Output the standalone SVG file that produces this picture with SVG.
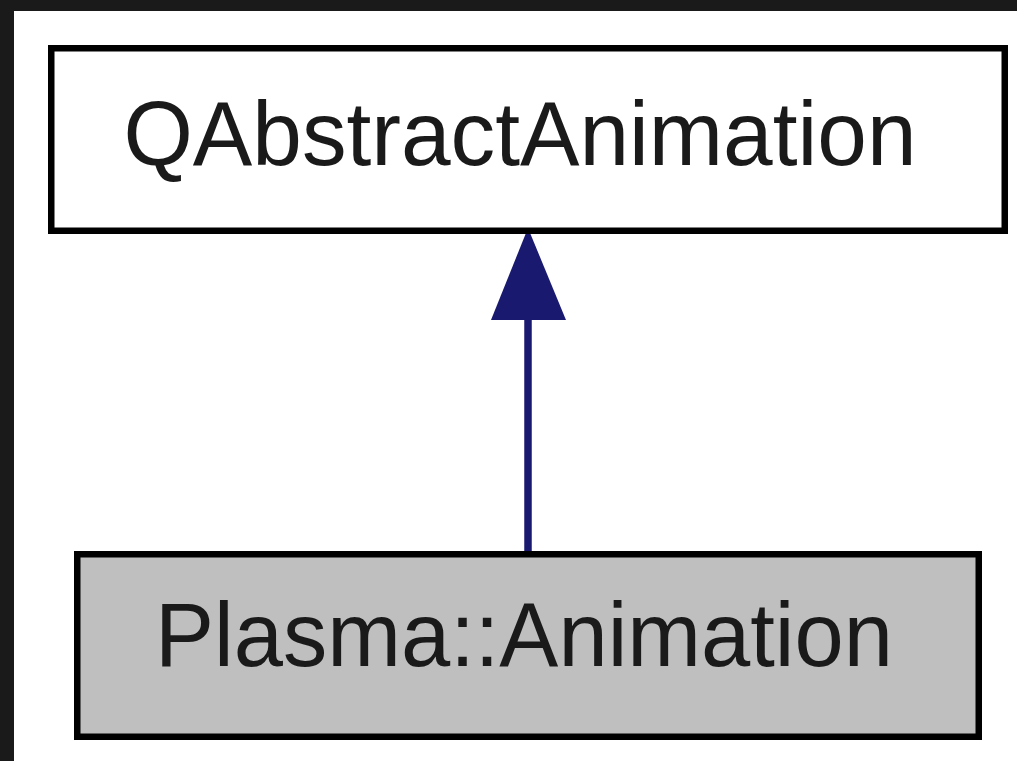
<svg xmlns="http://www.w3.org/2000/svg" width="1017" height="761" viewBox="0 0 1017 761">
<style>
.box{stroke:#000;stroke-width:6.5}
.lbl{font-family:"Liberation Sans",Arial,sans-serif;font-size:90px;fill:#1a1a1a;text-anchor:middle}
.edge{stroke:#191970;stroke-width:7.5;fill:none}
</style>
<rect x="0" y="0" width="1017" height="761" fill="#1a1a1a"/>
<rect x="14" y="11" width="1003" height="750" fill="#ffffff"/>
<g id="connectors">
<line class="edge" x1="528" y1="318" x2="528" y2="552"/>
<polygon points="528,228 491,320 566,320" fill="#191970"/>
</g>
<g id="node-QAbstractAnimation">
<rect class="box" x="51.25" y="48.25" width="953.5" height="182.5" fill="#ffffff"/>
<text class="lbl" x="520" y="165" textLength="793" lengthAdjust="spacingAndGlyphs">QAbstractAnimation</text>
</g>
<g id="node-PlasmaAnimation">
<rect class="box" x="77.25" y="554.25" width="901.5" height="182.5" fill="#bfbfbf"/>
<text class="lbl" x="524" y="666" textLength="738" lengthAdjust="spacingAndGlyphs">Plasma::Animation</text>
</g>
</svg>
